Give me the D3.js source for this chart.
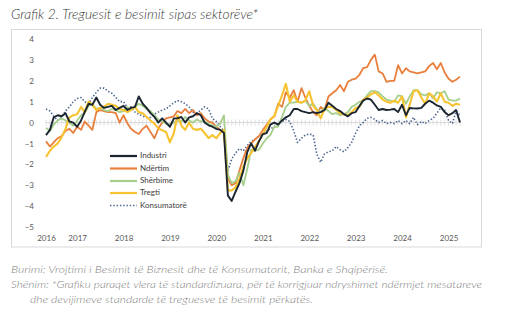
<!DOCTYPE html>
<html>
<head>
<meta charset="utf-8">
<script src="https://cdn.jsdelivr.net/npm/d3@7"></script>
<style>
  html, body { margin: 0; padding: 0; background: #fff; }
  svg { display: block; }
</style>
</head>
<body>
<svg id="chart" width="518" height="325"></svg>
<script>
// ---------------- DATA ----------------
const startMonth = new Date(2016, 4, 1);   // May 2016
const endMonth = new Date(2025, 3, 1);     // Apr 2025
const yearTickDates = ["2016-05", "2017-01", "2018-01", "2019-01", "2020-01", "2021-01", "2022-01", "2023-01", "2024-01", "2025-01"];
const yearTickLabels = ["2016", "2017", "2018", "2019", "2020", "2021", "2022", "2023", "2024", "2025"];
const yTicks = [4, 3, 2, 1, 0, -1, -2, -3, -4, -5];

const seriesNames = ["Industri", "Ndërtim", "Shërbime", "Tregti", "Konsumatorë"];

const industri = [-0.6,-0.35,0.25,0.35,0.3,0.45,0.05,0.0,-0.2,0.1,
  0.5,0.9,0.85,1.2,0.85,0.7,0.75,0.8,0.6,0.7,
  0.8,0.6,0.7,0.75,1.25,0.9,0.7,0.45,0.27,0.0,
  0.2,0.0,-0.2,0.2,0.2,0.27,0.0,0.25,0.3,0.45,
  0.35,0.0,-0.13,-0.2,-0.3,-0.35,-0.5,-3.5,-3.75,-3.3,
  -2.9,-2.3,-1.4,-1.0,-1.35,-0.9,-0.55,-0.5,-0.1,0.0,
  -0.1,0.1,0.25,0.35,0.65,0.65,0.55,0.5,0.45,0.5,
  0.45,0.5,0.6,0.95,0.8,0.65,0.55,0.4,0.3,0.45,
  0.5,0.8,1.05,1.15,1.1,0.85,0.6,0.65,0.6,0.62,
  0.65,0.5,0.85,0.35,0.7,0.68,0.67,0.7,0.9,1.05,
  0.95,0.82,0.75,0.5,0.35,0.45,0.6,0.0];

const ndertim = [-0.9,-1.15,-0.95,-0.75,-0.65,-0.4,-0.3,-0.5,-0.2,-0.35,
  0.05,-0.15,-0.35,0.5,0.6,0.55,0.5,0.5,0.45,0.0,
  0.35,-0.05,-0.3,-0.45,-0.55,-0.3,-0.15,-0.45,-0.75,-0.3,
  0.0,0.2,0.25,0.3,0.55,0.45,0.65,0.45,0.6,0.35,
  0.45,0.2,0.05,0.0,-0.2,-0.35,-0.45,-2.7,-3.0,-2.9,
  -2.3,-1.7,-1.2,-1.0,-0.8,-0.65,-0.35,-0.1,0.15,0.3,
  0.9,0.75,1.45,1.2,1.55,1.0,1.65,1.2,0.8,0.5,
  0.35,0.75,0.6,1.25,1.4,1.55,1.8,1.5,1.95,2.05,
  2.1,2.3,2.6,2.65,3.0,3.25,2.45,2.35,1.95,2.0,
  2.0,2.75,2.35,2.6,2.45,2.4,2.35,2.4,2.45,2.7,
  2.85,2.55,2.85,2.4,2.1,1.95,2.05,2.2];

const sherbime = [-0.25,-0.4,-0.1,0.1,0.2,0.1,0.0,-0.15,0.1,0.35,
  0.45,0.8,0.9,0.65,0.7,0.6,0.55,0.65,0.6,0.5,
  0.55,0.75,0.6,0.75,0.9,0.8,0.65,0.55,0.35,0.15,
  0.05,-0.05,-0.1,0.0,0.1,0.05,0.27,0.1,0.0,0.15,
  0.05,0.05,-0.05,-0.15,-0.2,-0.05,0.35,-2.5,-2.9,-2.8,
  -2.4,-3.0,-2.2,-1.3,-1.35,-1.3,-1.0,-0.75,-0.6,-0.2,
  -0.2,0.27,0.75,0.95,0.95,1.0,0.95,1.05,0.8,0.9,
  0.65,0.5,0.7,0.55,0.4,0.45,0.35,0.4,0.5,0.75,
  0.85,1.0,1.05,1.3,1.5,1.5,1.45,1.25,1.1,1.05,
  1.0,1.3,1.25,0.9,1.25,1.55,1.55,1.35,1.3,1.4,
  1.15,1.45,1.4,1.5,1.1,1.05,1.05,1.15];

const tregti = [-1.65,-1.35,-1.15,-1.0,-0.7,-0.3,0.25,0.35,0.4,0.75,
  0.5,1.0,0.85,0.6,0.7,0.75,0.9,0.85,0.8,0.65,
  0.6,0.5,0.6,0.75,0.5,0.45,0.27,0.1,-0.05,-0.28,
  -0.37,-0.45,-0.95,-0.5,0.35,-0.15,-0.35,0.0,-0.3,-0.35,
  -0.3,-0.5,-0.75,-0.6,-0.75,-0.5,-0.35,-3.25,-3.25,-3.1,
  -2.7,-2.1,-1.7,-1.45,-1.15,-0.9,-0.55,-0.2,0.15,0.3,
  0.8,1.3,1.85,1.0,1.3,1.0,0.95,1.05,1.5,0.8,
  0.6,0.2,0.65,0.75,0.75,0.6,0.45,0.4,0.35,0.5,
  0.7,0.75,1.1,1.2,1.35,1.45,1.3,1.1,1.0,0.95,
  1.05,0.95,1.25,0.25,0.85,1.5,1.55,1.2,0.9,1.4,
  1.25,1.0,1.4,1.0,0.95,0.8,0.9,0.85];

const konsumatore = [0.65,0.55,0.3,0.1,0.25,0.55,0.75,1.0,1.15,1.2,
  1.0,0.9,1.2,1.45,1.65,1.65,1.5,1.4,1.2,1.0,
  1.0,0.7,0.75,0.5,0.4,0.3,0.25,0.25,0.4,0.5,
  0.6,0.65,0.8,0.95,1.05,1.0,0.9,0.75,0.5,0.45,
  0.6,0.75,0.65,0.2,0.05,-0.2,-0.4,-2.3,-1.75,-1.45,
  -1.25,-1.35,-1.1,-0.9,-0.8,-0.65,-0.55,-0.4,-0.3,-0.2,
  -0.05,0.05,0.15,0.05,-0.4,-0.95,-0.75,-0.6,-0.55,-0.6,
  -1.5,-1.9,-1.5,-1.4,-1.35,-1.15,-1.3,-1.4,-1.2,-0.95,
  -0.5,-0.15,0.0,0.2,0.25,0.15,0.0,0.1,-0.05,0.0,
  -0.05,0.1,-0.05,0.1,-0.05,0.25,-0.1,0.05,-0.05,0.1,
  0.2,0.45,0.7,0.6,0.1,-0.05,0.55,0.35];

// ---------------- DRAW ----------------
const months = d3.timeMonth.range(startMonth, d3.timeMonth.offset(endMonth, 1));
const parseMonth = d3.timeParse("%Y-%m");

const svg = d3.select("#chart");
svg.append("rect").attr("width", 518).attr("height", 325).attr("fill", "#fff");

const x = d3.scaleTime().domain([startMonth, endMonth]).range([46, 460]);
const y = d3.scaleLinear().domain([-5, 4]).range([227, 39]);

const styles = [
  { color: "#1b2631", width: 1.9, dash: null },
  { color: "#e97f3c", width: 1.8, dash: null },
  { color: "#a6cf8b", width: 1.8, dash: null },
  { color: "#f7c330", width: 2.1, dash: null },
  { color: "#4b6590", width: 1.6, dash: "1.4 1.9" }
];
const allSeries = [industri, ndertim, sherbime, tregti, konsumatore];

// Title
svg.append("text")
  .attr("x", 11).attr("y", 19)
  .attr("font-family", "Lato, 'Open Sans', sans-serif")
  .attr("font-style", "italic").attr("font-weight", 300)
  .attr("font-size", 12.8).attr("fill", "#3c3c3c")
  .attr("textLength", 247).attr("lengthAdjust", "spacingAndGlyphs")
  .text("Grafik 2. Treguesit e besimit sipas sektorëve*");

// Chart box
svg.append("rect")
  .attr("x", 11.5).attr("y", 29.5).attr("width", 470).attr("height", 217.5)
  .attr("fill", "#fff").attr("stroke", "#d9d9d9").attr("stroke-width", 1);

// Zero axis with monthly cross ticks
const y0 = y(0);
svg.append("line")
  .attr("x1", x(startMonth)).attr("x2", x(endMonth))
  .attr("y1", y0).attr("y2", y0)
  .attr("stroke", "#d9d9d9").attr("stroke-width", 1);
svg.append("g").selectAll("line").data(months).join("line")
  .attr("x1", d => x(d)).attr("x2", d => x(d))
  .attr("y1", y0 - 3).attr("y2", y0 + 3)
  .attr("stroke", "#d9d9d9").attr("stroke-width", 0.8);

// Y axis labels
const yAxis = d3.axisLeft(y).tickValues(yTicks).tickSize(0).tickFormat(d3.format("d"));
const gy = svg.append("g").attr("transform", "translate(37,0)").call(yAxis);
gy.select(".domain").remove();
gy.selectAll("text")
  .attr("font-family", "Lato, 'Open Sans', sans-serif")
  .attr("font-size", 8).attr("fill", "#595959").attr("dx", 0);

// X axis labels
const xAxis = d3.axisBottom(x)
  .tickValues(yearTickDates.map(parseMonth))
  .tickSize(0)
  .tickFormat((d, i) => yearTickLabels[i]);
const gx = svg.append("g").attr("transform", "translate(0,233)").call(xAxis);
gx.select(".domain").remove();
gx.selectAll("text")
  .attr("font-family", "Lato, 'Open Sans', sans-serif")
  .attr("font-size", 8).attr("fill", "#595959").attr("dy", "0.6em");

// Lines
const line = d3.line()
  .x((d, i) => x(months[i]))
  .y(d => y(d));

const order = [4, 1, 2, 3, 0];
order.forEach(k => {
  const p = svg.append("path")
    .datum(allSeries[k])
    .attr("d", line)
    .attr("fill", "none")
    .attr("stroke", styles[k].color)
    .attr("stroke-width", styles[k].width)
    .attr("stroke-linejoin", "round");
  if (styles[k].dash) p.attr("stroke-dasharray", styles[k].dash);
});

// Legend
const legendY = [156, 168.5, 181, 193, 205.5];
const lg = svg.append("g");
seriesNames.forEach((name, k) => {
  const ly = legendY[k];
  const l = lg.append("line")
    .attr("x1", 110).attr("x2", 137)
    .attr("y1", ly).attr("y2", ly)
    .attr("stroke", styles[k].color)
    .attr("stroke-width", k === 4 ? 1.6 : 2.2);
  if (styles[k].dash) l.attr("stroke-dasharray", styles[k].dash);
  lg.append("text")
    .attr("x", 140).attr("y", ly)
    .attr("dominant-baseline", "middle")
    .attr("font-family", "Lato, 'Open Sans', sans-serif")
    .attr("font-size", 8).attr("fill", "#404040")
    .text(name);
});

// Footnotes
const foot = [
  { x: 11, y: 273, len: 377, t: "Burimi: Vrojtimi i Besimit të Biznesit dhe të Konsumatorit, Banka e Shqipërisë." },
  { x: 11, y: 288, len: 471, t: "Shënim: *Grafiku paraqet vlera të standardizuara, për të korrigjuar ndryshimet ndërmjet mesatareve" },
  { x: 30, y: 303, len: 283, t: "dhe devijimeve standarde të treguesve të besimit përkatës." }
];
foot.forEach(f => {
  svg.append("text")
    .attr("x", f.x).attr("y", f.y)
    .attr("font-family", "Lato, 'Open Sans', sans-serif")
    .attr("font-style", "italic").attr("font-weight", 300)
    .attr("font-size", 10.5).attr("fill", "#7f7f7f")
    .attr("textLength", f.len).attr("lengthAdjust", "spacingAndGlyphs")
    .text(f.t);
});
</script>
</body>
</html>
